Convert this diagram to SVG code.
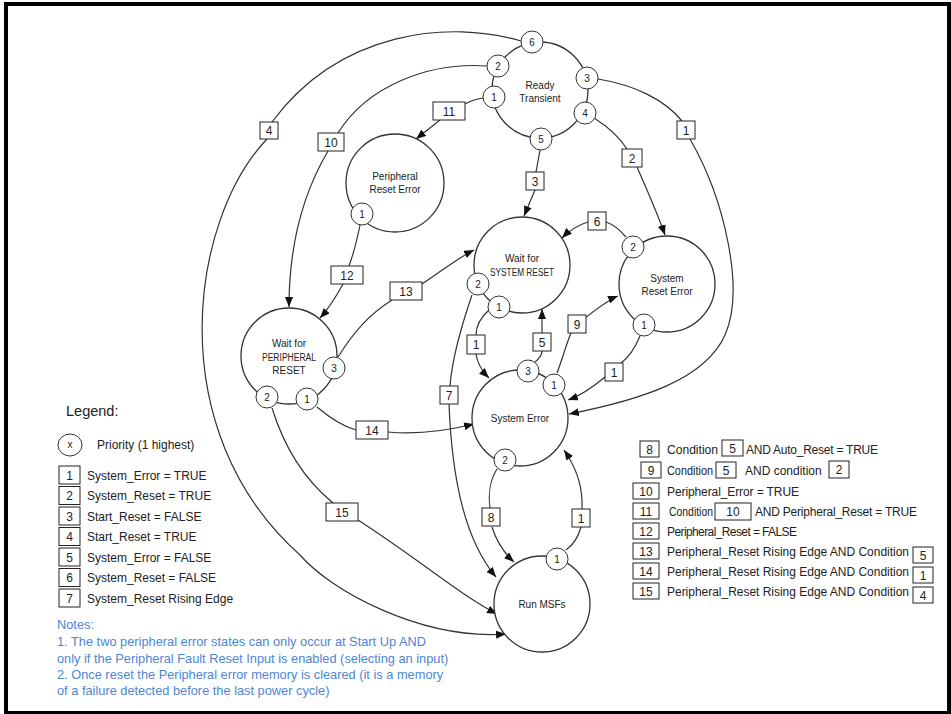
<svg xmlns="http://www.w3.org/2000/svg" width="951" height="714" viewBox="0 0 951 714">
<style>
.st{fill:#fff;stroke:#333;stroke-width:1.3}
.bd{fill:#fff;stroke:#333;stroke-width:1}
.bx{fill:#fff;stroke:#222;stroke-width:1}
.ln{fill:none;stroke:#333;stroke-width:1.2}
.nt{font-family:"Liberation Sans",Arial,sans-serif;font-size:10px;fill:#222;text-anchor:middle}
.bn{font-family:"Liberation Sans",Arial,sans-serif;font-size:10px;fill:#222;text-anchor:middle}
.lb{font-family:"Liberation Sans",Arial,sans-serif;font-size:12px;fill:#222;text-anchor:middle}
.lg{font-family:"Liberation Sans",Arial,sans-serif;font-size:12px;fill:#222}
.no{font-family:"Liberation Sans",Arial,sans-serif;font-size:12.8px;fill:#4e86d4}
</style>
<defs>
<marker id="ar" markerWidth="10" markerHeight="8" refX="10" refY="4" orient="auto" markerUnits="userSpaceOnUse">
<path d="M0,0 L10,4 L0,8 z" fill="#111"/>
</marker>
</defs>
<rect x="0" y="0" width="951" height="714" fill="#fff"/>
<rect x="6" y="4" width="943" height="709" fill="none" stroke="#000" stroke-width="4"/>

<g id="connectors">
<path class="ln" d="M521,41 C450,20 340,30 272,122"/>
<path class="ln" d="M267,139 C190,220 160,430 300,555 C330,590 420,640 506,634" marker-end="url(#ar)"/>
<path class="ln" d="M487,66 C430,62 368,85 338,133"/>
<path class="ln" d="M328,151 C305,190 289,240 289,307" marker-end="url(#ar)"/>
<path class="ln" d="M483,98 C476,99 470,101 465,104"/>
<path class="ln" d="M440,120 L416,139" marker-end="url(#ar)"/>
<path class="ln" d="M540,150 L536,172"/>
<path class="ln" d="M535,190 L524,216" marker-end="url(#ar)"/>
<path class="ln" d="M594,118 C610,128 620,138 627,149"/>
<path class="ln" d="M637,167 C647,190 657,212 665,235" marker-end="url(#ar)"/>
<path class="ln" d="M598,79 C635,85 665,100 682,121"/>
<path class="ln" d="M690,139 C725,200 745,290 725,335 S640,400 569,414" marker-end="url(#ar)"/>
<path class="ln" d="M472,295 C460,330 452,360 450,386"/>
<path class="ln" d="M449,404 C452,480 465,540 496,577" marker-end="url(#ar)"/>
<path class="ln" d="M489,310 C480,318 476,327 476,335"/>
<path class="ln" d="M476,354 C477,362 482,371 489,378" marker-end="url(#ar)"/>
<path class="ln" d="M535,362 C540,358 542,354 542,351"/>
<path class="ln" d="M542,333 L542,309" marker-end="url(#ar)"/>
<path class="ln" d="M557,373 C562,360 566,345 571,333"/>
<path class="ln" d="M585,318 C598,308 608,300 618,296" marker-end="url(#ar)"/>
<path class="ln" d="M626,237 C620,230 612,224 606,222"/>
<path class="ln" d="M588,222 C578,225 570,230 562,238" marker-end="url(#ar)"/>
<path class="ln" d="M640,336 C635,348 628,358 621,363"/>
<path class="ln" d="M605,377 C592,388 582,395 568,400" marker-end="url(#ar)"/>
<path class="ln" d="M360,225 C357,240 353,255 349,266"/>
<path class="ln" d="M343,284 C337,295 330,307 320,318" marker-end="url(#ar)"/>
<path class="ln" d="M338,357 C355,330 370,314 392,300"/>
<path class="ln" d="M422,284 C440,272 458,258 474,250" marker-end="url(#ar)"/>
<path class="ln" d="M317,407 C330,418 345,427 356,430"/>
<path class="ln" d="M388,432 C420,435 450,430 474,424" marker-end="url(#ar)"/>
<path class="ln" d="M272,408 C285,450 305,480 333,503"/>
<path class="ln" d="M358,520 C420,560 460,595 497,614" marker-end="url(#ar)"/>
<path class="ln" d="M497,469 C490,480 488,495 490,508"/>
<path class="ln" d="M492,527 C496,540 503,552 514,562" marker-end="url(#ar)"/>
<path class="ln" d="M566,550 C573,545 578,538 581,527"/>
<path class="ln" d="M582,509 C583,490 578,470 564,450" marker-end="url(#ar)"/>

<g id="labels">
<rect class="bx" x="260" y="122" width="18" height="17"/><text class="lb" x="269" y="135">4</text>
<rect class="bx" x="318" y="133" width="26" height="18"/><text class="lb" x="331" y="146.5">10</text>
<rect class="bx" x="433" y="102" width="32" height="18"/><text class="lb" x="449" y="115.5">11</text>
<rect class="bx" x="526" y="172" width="18" height="18"/><text class="lb" x="535" y="185.5">3</text>
<rect class="bx" x="622" y="149" width="20" height="18"/><text class="lb" x="632" y="162.5">2</text>
<rect class="bx" x="677" y="121" width="18" height="18"/><text class="lb" x="686" y="134.5">1</text>
<rect class="bx" x="440" y="386" width="18" height="18"/><text class="lb" x="449" y="399.5">7</text>
<rect class="bx" x="467" y="335" width="18" height="19"/><text class="lb" x="476" y="349">1</text>
<rect class="bx" x="533" y="333" width="18" height="18"/><text class="lb" x="542" y="346.5">5</text>
<rect class="bx" x="568" y="315" width="18" height="18"/><text class="lb" x="577" y="328.5">9</text>
<rect class="bx" x="588" y="212" width="18" height="18"/><text class="lb" x="597" y="225.5">6</text>
<rect class="bx" x="605" y="363" width="18" height="18"/><text class="lb" x="614" y="376.5">1</text>
<rect class="bx" x="331" y="266" width="32" height="18"/><text class="lb" x="347" y="279.5">12</text>
<rect class="bx" x="390" y="282" width="32" height="18"/><text class="lb" x="406" y="295.5">13</text>
<rect class="bx" x="356" y="421" width="32" height="18"/><text class="lb" x="372" y="434.5">14</text>
<rect class="bx" x="326" y="503" width="32" height="18"/><text class="lb" x="342" y="516.5">15</text>
<rect class="bx" x="482" y="508" width="18" height="18"/><text class="lb" x="491" y="521.5">8</text>
<rect class="bx" x="572" y="509" width="18" height="18"/><text class="lb" x="581" y="522.5">1</text>
</g>
</g>

<g id="ready-transient">
<circle class="st" cx="540" cy="90" r="48"/>
<text class="nt" x="540" y="88.5">Ready</text>
<text class="nt" x="540" y="101.5">Transient</text>
<circle class="bd" cx="532" cy="42" r="11"/><text class="bn" x="532" y="45.5">6</text>
<circle class="bd" cx="498" cy="66" r="11"/><text class="bn" x="498" y="69.5">2</text>
<circle class="bd" cx="494" cy="97" r="11"/><text class="bn" x="494" y="100.5">1</text>
<circle class="bd" cx="587" cy="78" r="11"/><text class="bn" x="587" y="81.5">3</text>
<circle class="bd" cx="585" cy="113" r="11"/><text class="bn" x="585" y="116.5">4</text>
<circle class="bd" cx="541" cy="139" r="11"/><text class="bn" x="541" y="142.5">5</text>
</g>

<g id="peripheral-reset-error">
<circle class="st" cx="395" cy="183" r="49"/>
<text class="nt" x="395" y="180">Peripheral</text>
<text class="nt" x="395" y="193">Reset Error</text>
<circle class="bd" cx="362" cy="214" r="11"/><text class="bn" x="362" y="217.5">1</text>
</g>

<g id="wait-system-reset">
<circle class="st" cx="522" cy="265" r="48"/>
<text class="nt" x="522" y="262">Wait for</text>
<text class="nt" x="522" y="275.5" textLength="64" lengthAdjust="spacingAndGlyphs">SYSTEM RESET</text>
<circle class="bd" cx="478" cy="284" r="11"/><text class="bn" x="478" y="287.5">2</text>
<circle class="bd" cx="499" cy="307" r="11"/><text class="bn" x="499" y="310.5">1</text>
</g>

<g id="system-reset-error">
<circle class="st" cx="667" cy="284" r="48"/>
<text class="nt" x="667" y="281.5">System</text>
<text class="nt" x="667" y="294.5">Reset Error</text>
<circle class="bd" cx="633" cy="247" r="11"/><text class="bn" x="633" y="250.5">2</text>
<circle class="bd" cx="644" cy="325" r="11"/><text class="bn" x="644" y="328.5">1</text>
</g>

<g id="system-error">
<circle class="st" cx="520" cy="418" r="48"/>
<text class="nt" x="520" y="422">System Error</text>
<circle class="bd" cx="528" cy="371" r="11"/><text class="bn" x="528" y="374.5">3</text>
<circle class="bd" cx="554" cy="385" r="11"/><text class="bn" x="554" y="388.5">1</text>
<circle class="bd" cx="505" cy="460" r="11"/><text class="bn" x="505" y="463.5">2</text>
</g>

<g id="run-msfs">
<circle class="st" cx="542" cy="604" r="48"/>
<text class="nt" x="542" y="608">Run MSFs</text>
<circle class="bd" cx="557" cy="559" r="11"/><text class="bn" x="557" y="562.5">1</text>
</g>

<g id="wait-peripheral-reset">
<circle class="st" cx="289" cy="356" r="48"/>
<text class="nt" x="289" y="347">Wait for</text>
<text class="nt" x="289" y="361" textLength="54" lengthAdjust="spacingAndGlyphs">PERIPHERAL</text>
<text class="nt" x="289" y="374">RESET</text>
<circle class="bd" cx="334" cy="368" r="11"/><text class="bn" x="334" y="371.5">3</text>
<circle class="bd" cx="267" cy="397" r="11"/><text class="bn" x="267" y="400.5">2</text>
<circle class="bd" cx="307" cy="399" r="11"/><text class="bn" x="307" y="402.5">1</text>
</g>

<g id="legend">
<text class="lg" x="66" y="416" style="font-size:14.5px">Legend:</text>
<ellipse class="bd" cx="70" cy="445" rx="12" ry="11"/><text class="bn" x="70" y="448">x</text>
<text class="lg" x="97" y="449">Priority (1 highest)</text>
<rect class="bx" x="59" y="466" width="21" height="18"/><text class="lb" x="69.5" y="479.5">1</text><text class="lg" x="87" y="479.5">System_Error = TRUE</text>
<rect class="bx" x="59" y="486.5" width="21" height="18"/><text class="lb" x="69.5" y="500">2</text><text class="lg" x="87" y="500">System_Reset = TRUE</text>
<rect class="bx" x="59" y="507" width="21" height="18"/><text class="lb" x="69.5" y="520.5">3</text><text class="lg" x="87" y="520.5">Start_Reset = FALSE</text>
<rect class="bx" x="59" y="527.5" width="21" height="18"/><text class="lb" x="69.5" y="541">4</text><text class="lg" x="87" y="541">Start_Reset = TRUE</text>
<rect class="bx" x="59" y="548" width="21" height="18"/><text class="lb" x="69.5" y="561.5">5</text><text class="lg" x="87" y="561.5">System_Error = FALSE</text>
<rect class="bx" x="59" y="568.5" width="21" height="18"/><text class="lb" x="69.5" y="582">6</text><text class="lg" x="87" y="582">System_Reset = FALSE</text>
<rect class="bx" x="59" y="589" width="21" height="18"/><text class="lb" x="69.5" y="602.5">7</text><text class="lg" x="87" y="602.5">System_Reset Rising Edge</text>

<rect class="bx" x="640" y="441" width="19" height="16"/><text class="lb" x="649.5" y="453.5">8</text>
<text class="lg" x="667" y="453.5" textLength="51" lengthAdjust="spacingAndGlyphs">Condition</text>
<rect class="bx" x="722" y="440" width="21" height="16"/><text class="lb" x="732.5" y="452.5">5</text>
<text class="lg" x="746" y="453.5" textLength="132">AND Auto_Reset = TRUE</text>

<rect class="bx" x="641" y="462" width="20" height="16"/><text class="lb" x="651" y="474.5">9</text>
<text class="lg" x="667" y="474.5" textLength="46" lengthAdjust="spacingAndGlyphs">Condition</text>
<rect class="bx" x="716" y="462" width="20" height="16"/><text class="lb" x="726" y="474.5">5</text>
<text class="lg" x="745" y="474.5">AND condition</text>
<rect class="bx" x="829" y="461" width="20" height="17"/><text class="lb" x="839" y="474">2</text>

<rect class="bx" x="633" y="483" width="26" height="16"/><text class="lb" x="646" y="495.5">10</text>
<text class="lg" x="667" y="495.5" textLength="132">Peripheral_Error = TRUE</text>

<rect class="bx" x="633" y="503" width="26" height="16"/><text class="lb" x="646" y="515.5">11</text>
<text class="lg" x="669" y="515.5" textLength="44" lengthAdjust="spacingAndGlyphs">Condition</text>
<rect class="bx" x="715" y="503" width="36" height="17"/><text class="lb" x="733" y="516">10</text>
<text class="lg" x="755" y="515.5" textLength="162">AND Peripheral_Reset = TRUE</text>

<rect class="bx" x="633" y="523" width="26" height="16"/><text class="lb" x="646" y="535.5">12</text>
<text class="lg" x="667" y="535.5" textLength="130">Peripheral_Reset = FALSE</text>

<rect class="bx" x="633" y="543" width="26" height="16"/><text class="lb" x="646" y="555.5">13</text>
<text class="lg" x="667" y="555.5" textLength="242">Peripheral_Reset Rising Edge AND Condition</text>
<rect class="bx" x="913" y="547" width="20" height="16"/><text class="lb" x="923" y="559.5">5</text>

<rect class="bx" x="633" y="563" width="26" height="16"/><text class="lb" x="646" y="575.5">14</text>
<text class="lg" x="667" y="575.5" textLength="242">Peripheral_Reset Rising Edge AND Condition</text>
<rect class="bx" x="913" y="567" width="20" height="16"/><text class="lb" x="923" y="579.5">1</text>

<rect class="bx" x="633" y="583" width="26" height="16"/><text class="lb" x="646" y="595.5">15</text>
<text class="lg" x="667" y="595.5" textLength="242">Peripheral_Reset Rising Edge AND Condition</text>
<rect class="bx" x="913" y="587" width="20" height="16"/><text class="lb" x="923" y="599.5">4</text>
</g>

<g id="notes">
<text class="no" x="57" y="629">Notes:</text>
<text class="no" x="57" y="646">1. The two peripheral error states can only occur at Start Up AND</text>
<text class="no" x="57" y="663">only if the Peripheral Fault Reset Input is enabled (selecting an input)</text>
<text class="no" x="57" y="679">2. Once reset the Peripheral error memory is cleared (it is a memory</text>
<text class="no" x="57" y="695">of a failure detected before the last power cycle)</text>
</g>
</svg>
